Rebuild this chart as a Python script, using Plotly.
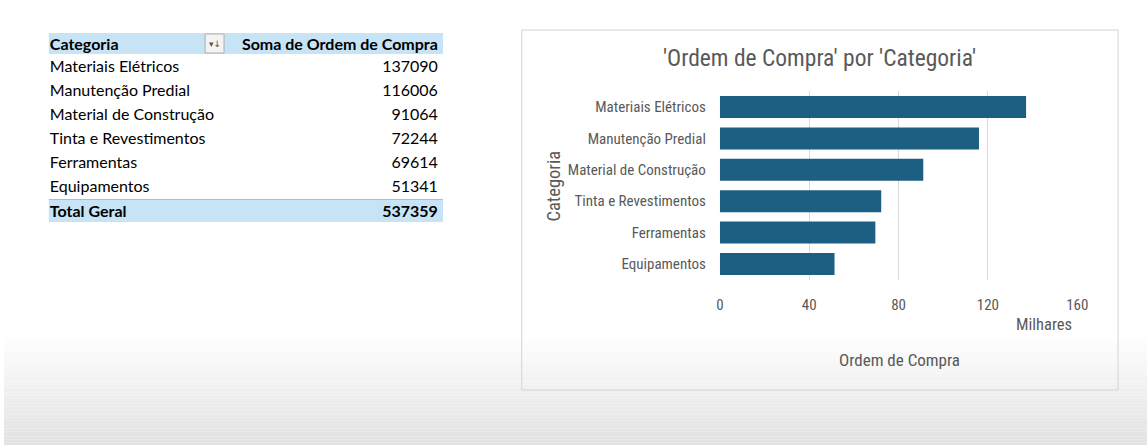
import plotly.graph_objects as go

# ---- data ----
categories = ["Materiais Elétricos", "Manutenção Predial", "Material de Construção",
              "Tinta e Revestimentos", "Ferramentas", "Equipamentos"]
values = [137090, 116006, 91064, 72244, 69614, 51341]
total_label = "Total Geral"
total_value = 537359
header_labels = ["Categoria", "Soma de Ordem de Compra"]
x_tickvals = [0, 40000, 80000, 120000, 160000]
x_ticktext = ["0", "40", "80", "120", "160"]
chart_title = "'Ordem de Compra' por 'Categoria'"
x_title = "Ordem de Compra"
y_title = "Categoria"
unit_label = "Milhares"

W, H = 1147, 445
WE = 1137  # effective rendered width of the paper
def px(x): return x / WE
def py(y): return 1 - y / H

CHART_FONT = "Liberation Sans Narrow, Roboto Condensed, Arial Narrow, Roboto, sans-serif"
TABLE_FONT = "Lato, Noto Sans, sans-serif"
GREY = "#595959"
BAR = "#1c5f82"
HEAD = "#c6e4f5"
CLEAR = "rgba(0,0,0,0)"

fig = go.Figure()

# bar chart
fig.add_trace(go.Bar(
    x=values, y=categories, orientation="h",
    marker=dict(color=BAR, line=dict(width=0)),
    hoverinfo="skip",
))

# pivot table: header + category rows (fills drawn as shapes underneath)
TX0, TX1 = 38, 444
CW = [188, 218]
fig.add_trace(go.Table(
    domain=dict(x=[px(TX0), px(TX1)], y=[py(196), py(30)]),
    columnwidth=CW,
    header=dict(values=header_labels,
                fill_color=CLEAR, line=dict(color=CLEAR, width=0),
                align=["left", "right"], height=22,
                font=dict(family=TABLE_FONT, size=16, color="#000000", weight="bold")),
    cells=dict(values=[categories, [str(v) for v in values]], fill_color=CLEAR,
               line=dict(color=CLEAR, width=0),
               align=["left", "right"], height=24,
               font=dict(family=TABLE_FONT, size=16, color="#000000")),
))
# total row
fig.add_trace(go.Table(
    domain=dict(x=[px(TX0), px(TX1)], y=[py(330), py(197)]),
    columnwidth=CW,
    header=dict(values=[total_label, str(total_value)],
                fill_color=CLEAR, line=dict(color=CLEAR, width=0),
                align=["left", "right"], height=23,
                font=dict(family=TABLE_FONT, size=16, color="#000000", weight="bold")),
    cells=dict(values=[[], []], fill_color=CLEAR, line=dict(width=0), height=1),
))

shapes = []
# background gradient at bottom
ns = 40
y0, y1 = 335, 445
for i in range(ns):
    t = i / (ns - 1)
    c = int(255 - t * (255 - 226))
    shapes.append(dict(type="rect", xref="paper", yref="paper", layer="below",
                       x0=0, x1=1.01, y0=py(y0 + (y1 - y0) * i / ns), y1=py(y0 + (y1 - y0) * (i + 1) / ns),
                       fillcolor=f"rgb({c},{c},{c})", line=dict(width=0)))
# chart box
shapes.append(dict(type="rect", xref="paper", yref="paper", layer="below",
                   x0=px(520), x1=px(1119), y0=py(390), y1=py(30),
                   line=dict(color="#d4d4d4", width=1), fillcolor=CLEAR))
# table header fill and total fill
shapes.append(dict(type="rect", xref="paper", yref="paper", layer="below",
                   x0=px(45), x1=px(441), y0=py(54), y1=py(33),
                   line=dict(width=0), fillcolor=HEAD))
shapes.append(dict(type="rect", xref="paper", yref="paper", layer="below",
                   x0=px(45), x1=px(441), y0=py(222), y1=py(200),
                   line=dict(width=0), fillcolor=HEAD))
# table line above total row
shapes.append(dict(type="line", xref="paper", yref="paper", layer="below",
                   x0=px(45), x1=px(441), y0=py(199.5), y1=py(199.5),
                   line=dict(color="#8cc8ea", width=1)))
# filter button
shapes.append(dict(type="rect", xref="paper", yref="paper", layer="above",
                   x0=px(202), x1=px(221), y0=py(53), y1=py(34),
                   line=dict(color="#b0b0b0", width=1), fillcolor="#f3f3f3"))

annotations = [
    dict(text=chart_title, x=px(819), y=py(58), xref="paper", yref="paper",
         showarrow=False, font=dict(family=CHART_FONT, size=23.5, color=GREY),
         xanchor="center", yanchor="middle"),
    dict(text=x_title, x=px(899), y=py(360), xref="paper", yref="paper",
         showarrow=False, font=dict(family=CHART_FONT, size=17, color=GREY),
         xanchor="center", yanchor="middle"),
    dict(text=unit_label, x=px(1045), y=py(324), xref="paper", yref="paper",
         showarrow=False, font=dict(family=CHART_FONT, size=16.5, color=GREY),
         xanchor="center", yanchor="middle"),
    dict(text=y_title, x=px(552), y=py(186), xref="paper", yref="paper",
         showarrow=False, textangle=-90, font=dict(family=CHART_FONT, size=18.5, color=GREY),
         xanchor="center", yanchor="middle"),
    dict(text="▾↓", x=px(211.5), y=py(43.5), xref="paper", yref="paper",
         showarrow=False, font=dict(family="DejaVu Sans", size=9, color="#555555"),
         xanchor="center", yanchor="middle"),
]

fig.update_layout(
    width=W, height=H, margin=dict(l=0, r=0, t=0, b=0), autosize=False,
    paper_bgcolor="white", plot_bgcolor=CLEAR,
    showlegend=False, bargap=0.3,
    shapes=shapes, annotations=annotations,
    xaxis=dict(domain=[px(719), px(1078)], range=[0, 160000],
               tickmode="array", tickvals=x_tickvals, ticktext=x_ticktext,
               showgrid=True, gridcolor="#d9d9d9", gridwidth=1, zeroline=False,
               showline=False, ticks="", ticklabelstandoff=14,
               tickfont=dict(family=CHART_FONT, size=15, color=GREY)),
    yaxis=dict(domain=[py(279.7), py(91.3)], autorange="reversed",
               showgrid=False, zeroline=False, showline=False, ticks="",
               ticklabelstandoff=13,
               tickfont=dict(family=CHART_FONT, size=15, color=GREY)),
)

fig.write_html(
    "out.html",
    config=dict(displayModeBar=False),
    post_script=("document.body.style.margin='0';"
                 "document.body.style.overflow='hidden';"
                 "document.body.style.background='linear-gradient(to bottom, #ffffff 0px, #ffffff 335px, #e2e2e2 445px)';"),
)
